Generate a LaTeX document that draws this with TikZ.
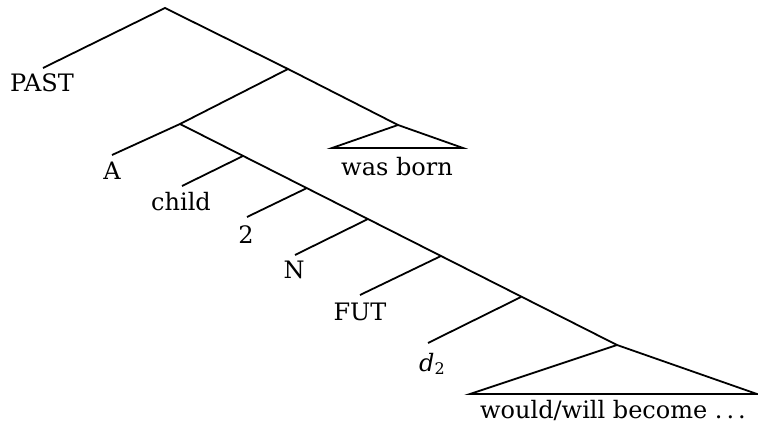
\documentclass[tikz,border=0pt]{standalone}
\usepackage{fontspec}
\setmainfont{DejaVu Serif}
\begin{document}
\begin{tikzpicture}[x=1pt,y=-1pt,
  edge/.style={line width=1.8pt},
  lbl/.style={inner sep=0pt,font=\fontsize{24}{28}\selectfont}]
\useasboundingbox (0,0) rectangle (758,427);
% tree nodes
\coordinate (r) at (165,8);
\coordinate (x1) at (288,69);
\coordinate (x2) at (180,124);
\coordinate (x3) at (243,156);
\coordinate (x4) at (307,188);
\coordinate (x5) at (368,219);
\coordinate (x6) at (441,256);
\coordinate (x7) at (521,297);
\coordinate (x8) at (617,345);
\coordinate (wb) at (398,125);
% leaf line ends
\coordinate (ePAST) at (43,68);
\coordinate (eA) at (112,155);
\coordinate (echild) at (182,186);
\coordinate (etwo) at (247,217);
\coordinate (eN) at (295,255);
\coordinate (eFUT) at (360,295);
\coordinate (ed) at (428,343);
% triangle corners
\coordinate (wbL) at (332,148);
\coordinate (wbR) at (463,148);
\coordinate (bL) at (470,394);
\coordinate (bR) at (757,394);
% labels
\node[lbl] (PAST) at (42,83) {PAST};
\node[lbl] (A) at (112,171) {A};
\node[lbl] (child) at (181,202) {child};
\node[lbl] (two) at (246,235) {2};
\node[lbl] (N) at (294,270) {N};
\node[lbl] (FUT) at (360,312) {FUT};
\node[lbl] (d) at (432,364) {\textit{d}\raisebox{-0.3ex}{\fontsize{16}{18}\selectfont 2}};
\node[lbl] (wasborn) at (397,167) {was born};
\node[lbl] (become) at (613,410) {would/will become .\,.\,.};
% edges
\draw[edge] (ePAST) -- (r) -- (x1) -- (wb);
\draw[edge] (x1) -- (x2) -- (eA);
\draw[edge] (x2) -- (x8);
\draw[edge] (x3) -- (echild);
\draw[edge] (x4) -- (etwo);
\draw[edge] (x5) -- (eN);
\draw[edge] (x6) -- (eFUT);
\draw[edge] (x7) -- (ed);
\draw[edge,line join=miter] (wbL) -- (wb) -- (wbR) -- cycle;
\draw[edge,line join=miter] (bL) -- (x8) -- (bR) -- cycle;
\end{tikzpicture}
\end{document}
